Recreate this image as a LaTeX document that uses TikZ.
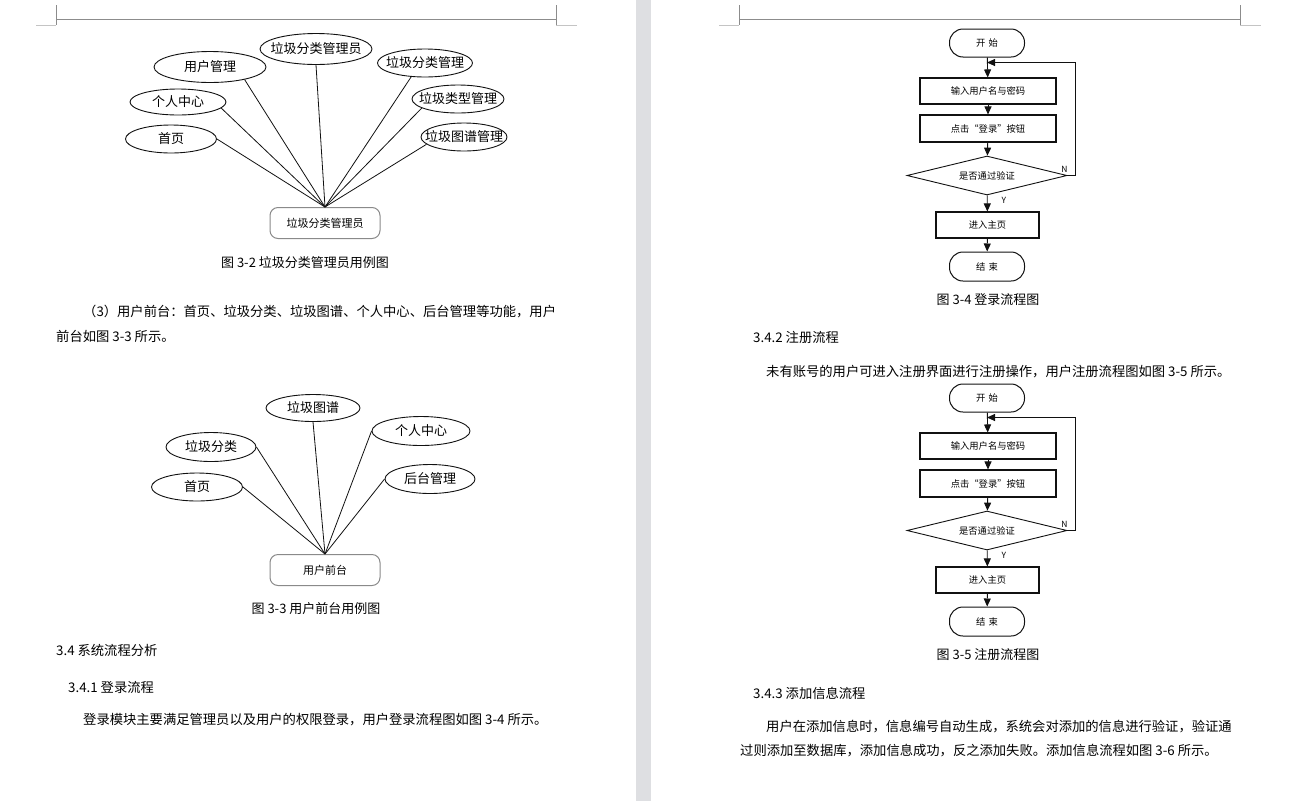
\documentclass[tikz,border=0pt]{standalone}
\usepackage{fontspec}
\setmainfont{Noto Sans CJK SC}
\usepackage{xcolor}
\definecolor{cInk}{HTML}{111111}
\definecolor{cRule}{HTML}{8C8C8C}
\definecolor{cRuleFaint}{HTML}{C4C4C4}
\definecolor{cGap}{HTML}{DEDFE2}
\definecolor{cActor}{HTML}{8A8A8A}
\usepackage{tikz}
\usetikzlibrary{positioning,arrows.meta,shapes.geometric,calc}
\tikzset{
  uc-oval/.style={draw=cInk,ellipse,inner sep=0pt,line width=0.9pt},
  uc-text/.style={inner sep=0pt,font=\fontsize{13}{15}\selectfont},
  uc-actor/.style={draw=cActor,line width=1pt,rounded corners=8pt,
    minimum width=110pt,minimum height=31pt,font=\fontsize{11}{13}\selectfont},
  uc-link/.style={draw=cInk,line width=0.8pt},
  fc-term/.style={draw=cInk,line width=1pt,rounded corners=13.5pt,
    minimum width=75pt,minimum height=28pt,font=\fontsize{9.3}{11}\selectfont},
  fc-box/.style={draw=cInk,line width=1.1pt,minimum height=26pt,
    font=\fontsize{9.3}{11}\selectfont},
  fc-cond/.style={draw=cInk,line width=0.9pt,diamond,aspect=4.1,inner sep=0pt,
    minimum width=160pt,minimum height=39pt,font=\fontsize{9.3}{11}\selectfont},
  fc-yn/.style={inner sep=0pt,font=\fontsize{8.5}{10}\selectfont},
  arrow/.style={-{Triangle[length=8pt,width=7pt]},draw=cInk,line width=0.9pt},
  body-text/.style={anchor=west,inner sep=0pt,font=\fontsize{13.3}{16}\selectfont},
  cap-text/.style={inner sep=0pt,font=\fontsize{13}{15}\selectfont},
  rule/.style={draw=cRule,line width=0.8pt},
  rule-faint/.style={draw=cRuleFaint,line width=0.8pt},
}

\begin{document}
\begin{tikzpicture}[x=1pt,y=-1pt]
  \fill[white] (0,0) rectangle (1289,801);
  \fill[cGap] (636,0) rectangle (651,801);
  % page header marks
  \foreach \xl/\xr in {56/556,739/1240}{
    \draw[rule] (\xl,19) -- (\xr,19);
    \draw[rule] (\xl,5) -- (\xl,25);
    \draw[rule] (\xr,5) -- (\xr,25);
    \draw[rule-faint] (\xl-20,25) -- (\xl,25);
    \draw[rule-faint] (\xr,25) -- (\xr+21,25);
  }

  % 图 3-2
  \node[uc-actor] (a-admin) at (325,223) {垃圾分类管理员};
  \node[uc-oval,minimum width=91pt,minimum height=28pt,label={[uc-text]center:首页}] (a-home) at (171,139) {};
  \node[uc-oval,minimum width=96pt,minimum height=26pt,label={[uc-text]center:个人中心}] (a-center) at (178,102) {};
  \node[uc-oval,minimum width=112pt,minimum height=31pt,label={[uc-text]center:用户管理}] (a-user) at (210,67) {};
  \node[uc-oval,minimum width=112pt,minimum height=31pt,label={[uc-text]center:垃圾分类管理员}] (a-role) at (316,49) {};
  \node[uc-oval,minimum width=95pt,minimum height=28pt,label={[uc-text]center:垃圾分类管理}] (a-sort) at (425,63) {};
  \node[uc-oval,minimum width=92pt,minimum height=28pt,label={[uc-text]center:垃圾类型管理}] (a-type) at (458,99) {};
  \node[uc-oval,minimum width=86pt,minimum height=28pt,label={[uc-text]center:垃圾图谱管理}] (a-map) at (464,137) {};
  \foreach \n in {a-home.east,a-center.-8,a-user.-20,a-role.south,a-sort.-135,a-type.194,a-map.191}
    \draw[uc-link] (\n) -- (a-admin.north);
  \node[cap-text] (a-cap) at (305,263) {图~3-2~垃圾分类管理员用例图};

  \node[body-text] (p1) at (83,312) {（3）用户前台：首页、垃圾分类、垃圾图谱、个人中心、后台管理等功能，用户};
  \node[body-text] (p2) at (56,336) {前台如图 3-3 所示。};

  % 图 3-3
  \node[uc-actor] (b-front) at (325,570) {用户前台};
  \node[uc-oval,minimum width=94pt,minimum height=27pt,label={[uc-text]center:垃圾图谱}] (b-map) at (313,408) {};
  \node[uc-oval,minimum width=98pt,minimum height=29pt,label={[uc-text]center:个人中心}] (b-center) at (421,431) {};
  \node[uc-oval,minimum width=90pt,minimum height=29pt,label={[uc-text]center:垃圾分类}] (b-sort) at (211,447) {};
  \node[uc-oval,minimum width=90pt,minimum height=29pt,label={[uc-text]center:后台管理}] (b-admin) at (430,479) {};
  \node[uc-oval,minimum width=91pt,minimum height=28pt,label={[uc-text]center:首页}] (b-home) at (197,487) {};
  \foreach \n in {b-home.east,b-sort.east,b-map.south,b-center.west,b-admin.west}
    \draw[uc-link] (\n) -- (b-front.north);
  \node[cap-text] (b-cap) at (316,609) {图~3-3~用户前台用例图};

  \node[body-text] (h1) at (56,650) {3.4 系统流程分析};
  \node[body-text] (h2) at (68,687) {3.4.1 登录流程};
  \node[body-text] (p3) at (83,720) {登录模块主要满足管理员以及用户的权限登录，用户登录流程图如图 3-4 所示。};

  % 图 3-4 / 图 3-5
  \foreach \k/\dy/\num/\ttl in {c/0/3-4/登录,d/355/3-5/注册}{
    \node[fc-term] (\k-start) at (987,43+\dy) {开\hspace{3pt}始};
    \node[fc-box,minimum width=136pt] (\k-in) at (988,91+\dy) {输入用户名与密码};
    \node[fc-box,minimum width=136pt,minimum height=27pt] (\k-click) at (988,128.5+\dy) {点击“登录”按钮};
    \node[fc-cond] (\k-cond) at (987,175.5+\dy) {是否通过验证};
    \node[fc-box,minimum width=103pt] (\k-home) at (987.5,225+\dy) {进入主页};
    \node[fc-term,minimum height=29pt] (\k-end) at (987,266.5+\dy) {结\hspace{3pt}束};
    \coordinate (\k-back) at ($(\k-start.south)+(0,5)$);
    \draw[arrow] (\k-start) -- (\k-in);
    \draw[arrow] (\k-in) -- (\k-click);
    \draw[arrow] (\k-click) -- (\k-cond);
    \draw[arrow] (\k-cond) -- node[fc-yn,pos=0.3,right=14pt]{Y} (\k-home);
    \draw[arrow] (\k-home) -- (\k-end);
    \draw[arrow] (\k-cond.east) node[fc-yn,above=3pt,xshift=-3pt]{N} -- ++(8,0) |- (\k-back);
    \node[cap-text] (\k-cap) at (988,300+\dy) {图~\num~\ttl 流程图};
  }

  \node[body-text] (h3) at (753,337) {3.4.2 注册流程};
  \node[body-text] (p4) at (766,372) {未有账号的用户可进入注册界面进行注册操作，用户注册流程图如图 3-5 所示。};
  \node[body-text] (h4) at (753,693) {3.4.3 添加信息流程};
  \node[body-text] (p5) at (766,727) {用户在添加信息时，信息编号自动生成，系统会对添加的信息进行验证，验证通};
  \node[body-text] (p6) at (740,751) {过则添加至数据库，添加信息成功，反之添加失败。添加信息流程如图 3-6 所示。};
\end{tikzpicture}
\end{document}
